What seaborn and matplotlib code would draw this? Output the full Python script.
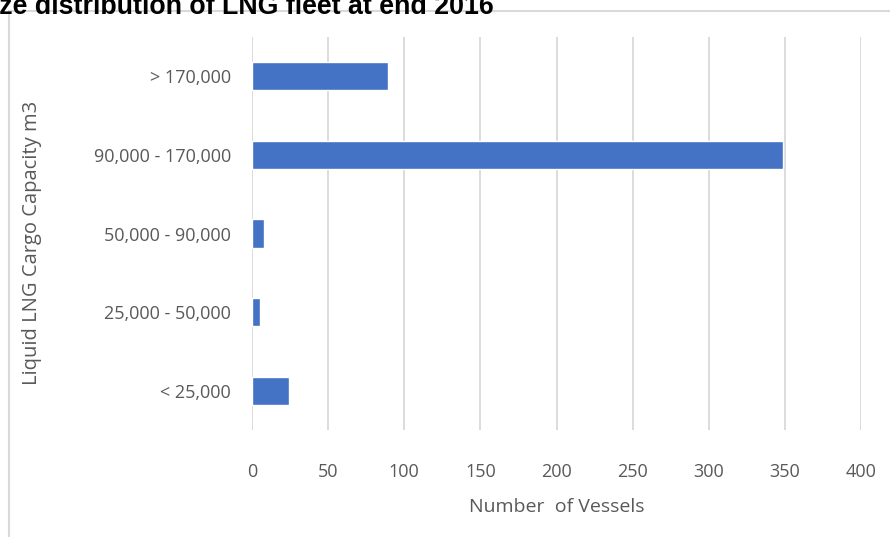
import matplotlib
matplotlib.use("Agg")
import matplotlib.pyplot as plt
import seaborn as sns
import pandas as pd
from matplotlib.patches import Rectangle

categories = ["> 170,000", "90,000 - 170,000", "50,000 - 90,000", "25,000 - 50,000", "< 25,000"]
vessels = [89, 349, 8, 5, 24]
x_ticks = [0, 50, 100, 150, 200, 250, 300, 350, 400]

df = pd.DataFrame({"capacity": categories, "vessels": vessels})

sns.set_style("white")
plt.rcParams["font.family"] = ["Open Sans", "DejaVu Sans"]

fig = plt.figure(figsize=(8.9, 5.37), dpi=100)
ax = fig.add_axes([252 / 890, 1 - 430 / 537, (861 - 252) / 890, (430 - 37) / 537])

sns.barplot(data=df, x="vessels", y="capacity", order=categories, color="#4472C4",
            width=0.36, saturation=1, ax=ax, orient="h")

ax.set_xlim(0, 400)
ax.set_ylim(4.5, -0.5)
ax.set_xticks(x_ticks)
ax.set_xticklabels([str(t) for t in x_ticks])
ax.xaxis.grid(True, color="#D9D9D9", linewidth=1.3)
ax.set_axisbelow(True)
for s in ax.spines.values():
    s.set_visible(False)
ax.tick_params(axis="both", length=0, labelsize=13, colors="#595959")
ax.tick_params(axis="y", pad=15)
ax.tick_params(axis="x", pad=24)
ax.set_xlabel("Number  of Vessels", fontsize=14, color="#595959", labelpad=12)
ax.set_ylabel("Liquid LNG Cargo Capacity m3", fontsize=14.5, color="#595959")
ax.yaxis.set_label_coords(-0.345, 0.476)

# chart frame, partially cropped like the source screenshot
fig.patches.append(Rectangle((9 / 890, -0.05), 1.0, 1 - 11 / 537 + 0.05,
                             transform=fig.transFigure, fill=False,
                             edgecolor="#D9D9D9", linewidth=1.5))

fig.text(-26 / 890, 1 - 14 / 537, "Size distribution of LNG fleet at end 2016",
         fontsize=19.3, fontweight="bold", family="Liberation Sans", color="black",
         ha="left", va="baseline")

fig.savefig("out.png", dpi=100)
